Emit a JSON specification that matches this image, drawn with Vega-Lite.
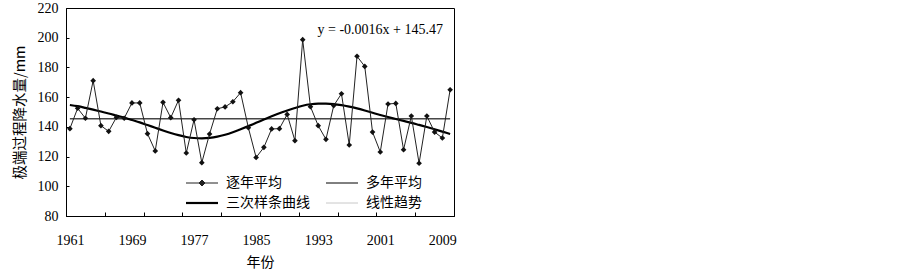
{
  "$schema": "https://vega.github.io/schema/vega-lite/v6.json",
  "autosize": "none",
  "width": 388,
  "height": 208,
  "padding": {"left": 66, "top": 8, "right": 446, "bottom": 55},
  "background": "white",
  "config": {
    "view": {"stroke": "black", "strokeWidth": 1},
    "axis": {"grid": false, "domainColor": "black", "tickColor": "black", "labelColor": "black", "titleColor": "black", "labelFont": "Liberation Serif", "labelFontSize": 14, "titleFont": "Noto Sans CJK SC", "titleFontSize": 14, "titleFontWeight": "normal", "labelOverlap": false}
  },
  "datasets": {
    "series": [
      {"series": "逐年平均", "year": 1961, "value": 138.8},
      {"series": "逐年平均", "year": 1962, "value": 152.5},
      {"series": "逐年平均", "year": 1963, "value": 145.8},
      {"series": "逐年平均", "year": 1964, "value": 171.1},
      {"series": "逐年平均", "year": 1965, "value": 140.8},
      {"series": "逐年平均", "year": 1966, "value": 137.0},
      {"series": "逐年平均", "year": 1967, "value": 146.4},
      {"series": "逐年平均", "year": 1968, "value": 145.8},
      {"series": "逐年平均", "year": 1969, "value": 156.1},
      {"series": "逐年平均", "year": 1970, "value": 156.1},
      {"series": "逐年平均", "year": 1971, "value": 135.4},
      {"series": "逐年平均", "year": 1972, "value": 123.8},
      {"series": "逐年平均", "year": 1973, "value": 156.5},
      {"series": "逐年平均", "year": 1974, "value": 146.2},
      {"series": "逐年平均", "year": 1975, "value": 157.9},
      {"series": "逐年平均", "year": 1976, "value": 122.4},
      {"series": "逐年平均", "year": 1977, "value": 144.8},
      {"series": "逐年平均", "year": 1978, "value": 115.9},
      {"series": "逐年平均", "year": 1979, "value": 135.2},
      {"series": "逐年平均", "year": 1980, "value": 152.2},
      {"series": "逐年平均", "year": 1981, "value": 153.4},
      {"series": "逐年平均", "year": 1982, "value": 156.9},
      {"series": "逐年平均", "year": 1983, "value": 163.0},
      {"series": "逐年平均", "year": 1984, "value": 139.4},
      {"series": "逐年平均", "year": 1985, "value": 119.4},
      {"series": "逐年平均", "year": 1986, "value": 126.2},
      {"series": "逐年平均", "year": 1987, "value": 138.6},
      {"series": "逐年平均", "year": 1988, "value": 138.8},
      {"series": "逐年平均", "year": 1989, "value": 148.4},
      {"series": "逐年平均", "year": 1990, "value": 130.7},
      {"series": "逐年平均", "year": 1991, "value": 198.7},
      {"series": "逐年平均", "year": 1992, "value": 153.6},
      {"series": "逐年平均", "year": 1993, "value": 140.8},
      {"series": "逐年平均", "year": 1994, "value": 131.6},
      {"series": "逐年平均", "year": 1995, "value": 154.3},
      {"series": "逐年平均", "year": 1996, "value": 162.3},
      {"series": "逐年平均", "year": 1997, "value": 127.8},
      {"series": "逐年平均", "year": 1998, "value": 187.5},
      {"series": "逐年平均", "year": 1999, "value": 180.7},
      {"series": "逐年平均", "year": 2000, "value": 136.5},
      {"series": "逐年平均", "year": 2001, "value": 123.1},
      {"series": "逐年平均", "year": 2002, "value": 155.4},
      {"series": "逐年平均", "year": 2003, "value": 155.8},
      {"series": "逐年平均", "year": 2004, "value": 124.6},
      {"series": "逐年平均", "year": 2005, "value": 147.3},
      {"series": "逐年平均", "year": 2006, "value": 115.5},
      {"series": "逐年平均", "year": 2007, "value": 147.3},
      {"series": "逐年平均", "year": 2008, "value": 136.5},
      {"series": "逐年平均", "year": 2009, "value": 132.5},
      {"series": "逐年平均", "year": 2010, "value": 165.0},
      {"series": "多年平均", "year": 1961, "value": 145.4},
      {"series": "多年平均", "year": 2010, "value": 145.4},
      {"series": "线性趋势", "year": 1961, "value": 145.47},
      {"series": "线性趋势", "year": 2010, "value": 145.39},
      {"series": "三次样条曲线", "year": 1961, "value": 154.7},
      {"series": "三次样条曲线", "year": 1962, "value": 153.9},
      {"series": "三次样条曲线", "year": 1963, "value": 152.8},
      {"series": "三次样条曲线", "year": 1964, "value": 151.6},
      {"series": "三次样条曲线", "year": 1965, "value": 150.3},
      {"series": "三次样条曲线", "year": 1966, "value": 149.0},
      {"series": "三次样条曲线", "year": 1967, "value": 147.6},
      {"series": "三次样条曲线", "year": 1968, "value": 146.2},
      {"series": "三次样条曲线", "year": 1969, "value": 144.6},
      {"series": "三次样条曲线", "year": 1970, "value": 143.0},
      {"series": "三次样条曲线", "year": 1971, "value": 141.2},
      {"series": "三次样条曲线", "year": 1972, "value": 139.4},
      {"series": "三次样条曲线", "year": 1973, "value": 137.6},
      {"series": "三次样条曲线", "year": 1974, "value": 135.9},
      {"series": "三次样条曲线", "year": 1975, "value": 134.4},
      {"series": "三次样条曲线", "year": 1976, "value": 133.2},
      {"series": "三次样条曲线", "year": 1977, "value": 132.5},
      {"series": "三次样条曲线", "year": 1978, "value": 132.3},
      {"series": "三次样条曲线", "year": 1979, "value": 132.6},
      {"series": "三次样条曲线", "year": 1980, "value": 133.4},
      {"series": "三次样条曲线", "year": 1981, "value": 134.7},
      {"series": "三次样条曲线", "year": 1982, "value": 136.4},
      {"series": "三次样条曲线", "year": 1983, "value": 138.4},
      {"series": "三次样条曲线", "year": 1984, "value": 140.5},
      {"series": "三次样条曲线", "year": 1985, "value": 142.7},
      {"series": "三次样条曲线", "year": 1986, "value": 144.9},
      {"series": "三次样条曲线", "year": 1987, "value": 147.1},
      {"series": "三次样条曲线", "year": 1988, "value": 149.2},
      {"series": "三次样条曲线", "year": 1989, "value": 151.0},
      {"series": "三次样条曲线", "year": 1990, "value": 152.7},
      {"series": "三次样条曲线", "year": 1991, "value": 154.2},
      {"series": "三次样条曲线", "year": 1992, "value": 155.2},
      {"series": "三次样条曲线", "year": 1993, "value": 155.6},
      {"series": "三次样条曲线", "year": 1994, "value": 155.6},
      {"series": "三次样条曲线", "year": 1995, "value": 155.3},
      {"series": "三次样条曲线", "year": 1996, "value": 154.6},
      {"series": "三次样条曲线", "year": 1997, "value": 153.6},
      {"series": "三次样条曲线", "year": 1998, "value": 152.4},
      {"series": "三次样条曲线", "year": 1999, "value": 151.0},
      {"series": "三次样条曲线", "year": 2000, "value": 149.5},
      {"series": "三次样条曲线", "year": 2001, "value": 148.0},
      {"series": "三次样条曲线", "year": 2002, "value": 146.6},
      {"series": "三次样条曲线", "year": 2003, "value": 145.3},
      {"series": "三次样条曲线", "year": 2004, "value": 144.0},
      {"series": "三次样条曲线", "year": 2005, "value": 142.7},
      {"series": "三次样条曲线", "year": 2006, "value": 141.3},
      {"series": "三次样条曲线", "year": 2007, "value": 139.9},
      {"series": "三次样条曲线", "year": 2008, "value": 138.4},
      {"series": "三次样条曲线", "year": 2009, "value": 136.8},
      {"series": "三次样条曲线", "year": 2010, "value": 135.2}
    ],
    "note": [{"label": "y = -0.0016x + 145.47", "year": 2001, "value": 205}]
  },
  "resolve": {"axis": {"x": "independent", "y": "independent"}},
  "layer": [
    {
      "data": {"name": "series"},
      "transform": [{"filter": "datum.series === '线性趋势'"}],
      "mark": {"type": "line", "strokeWidth": 1},
      "encoding": {
        "x": {"field": "year", "type": "quantitative", "scale": {"domain": [1960.5, 2010.5], "nice": false, "zero": false},
          "axis": {"values": [1965.5, 1970.5, 1975.5, 1980.5, 1985.5, 1990.5, 1995.5, 2000.5, 2005.5], "labels": false, "tickSize": -4, "title": null, "orient": "bottom"}},
        "y": {"field": "value", "type": "quantitative", "scale": {"domain": [80, 220], "nice": false, "zero": false},
          "axis": {"values": [80, 100, 120, 140, 160, 180, 200, 220], "labelOverlap": false, "tickSize": -3, "labelPadding": 11, "title": "极端过程降水量/mm", "titlePadding": 10, "titleFontSize": 14.5, "orient": "left"}},
        "stroke": {"field": "series", "type": "nominal",
          "scale": {"domain": ["逐年平均", "三次样条曲线", "多年平均", "线性趋势"], "range": ["#222222", "#000000", "#000000", "#c8c8c8"]},
          "legend": {"orient": "none", "legendX": 129, "legendY": 168, "columns": 2, "title": null, "padding": 0,
            "labelFont": "Noto Sans CJK SC", "labelFontSize": 14, "labelColor": "black", "labelOffset": 17,
            "symbolSize": 64, "symbolType": "M-4,0L4,0", "columnPadding": 14, "rowPadding": 6,
            "encode": {"symbols": {"update": {
              "shape": {"signal": "datum.value === '逐年平均' ? 'M-4,0L4,0M0,-0.75L0.75,0L0,0.75L-0.75,0Z' : 'M-4,0L4,0'"},
              "strokeWidth": {"signal": "datum.value === '三次样条曲线' ? 2.2 : 1"},
              "fill": {"signal": "datum.value === '逐年平均' ? '#222222' : 'transparent'"}
            }}}}}
      }
    },
    {
      "data": {"name": "series"},
      "transform": [{"filter": "datum.series === '多年平均'"}],
      "mark": {"type": "line", "strokeWidth": 1},
      "encoding": {
        "x": {"field": "year", "type": "quantitative", "axis": null},
        "y": {"field": "value", "type": "quantitative", "axis": null},
        "stroke": {"field": "series", "type": "nominal"}
      }
    },
    {
      "data": {"name": "series"},
      "transform": [{"filter": "datum.series === '三次样条曲线'"}],
      "mark": {"type": "line", "strokeWidth": 2.2, "interpolate": "monotone"},
      "encoding": {
        "x": {"field": "year", "type": "quantitative", "axis": null},
        "y": {"field": "value", "type": "quantitative", "axis": null},
        "stroke": {"field": "series", "type": "nominal"}
      }
    },
    {
      "data": {"name": "series"},
      "transform": [{"filter": "datum.series === '逐年平均'"}],
      "mark": {"type": "line", "strokeWidth": 1},
      "encoding": {
        "x": {"field": "year", "type": "quantitative",
          "axis": {"values": [1961, 1969, 1977, 1985, 1993, 2001, 2009], "format": "d", "ticks": false, "labelPadding": 17, "title": "年份", "titlePadding": 8, "orient": "bottom", "labelFlush": false}},
        "y": {"field": "value", "type": "quantitative", "axis": null},
        "stroke": {"field": "series", "type": "nominal"}
      }
    },
    {
      "data": {"name": "series"},
      "transform": [{"filter": "datum.series === '逐年平均'"}],
      "mark": {"type": "point", "shape": "diamond", "filled": true, "size": 32, "color": "#111111", "opacity": 1},
      "encoding": {
        "x": {"field": "year", "type": "quantitative", "axis": null},
        "y": {"field": "value", "type": "quantitative", "axis": null}
      }
    },
    {
      "data": {"name": "note"},
      "mark": {"type": "text", "font": "Liberation Serif", "fontSize": 14, "color": "black", "align": "center", "baseline": "middle"},
      "encoding": {
        "x": {"field": "year", "type": "quantitative", "axis": null},
        "y": {"field": "value", "type": "quantitative", "axis": null},
        "text": {"field": "label"}
      }
    }
  ]
}
